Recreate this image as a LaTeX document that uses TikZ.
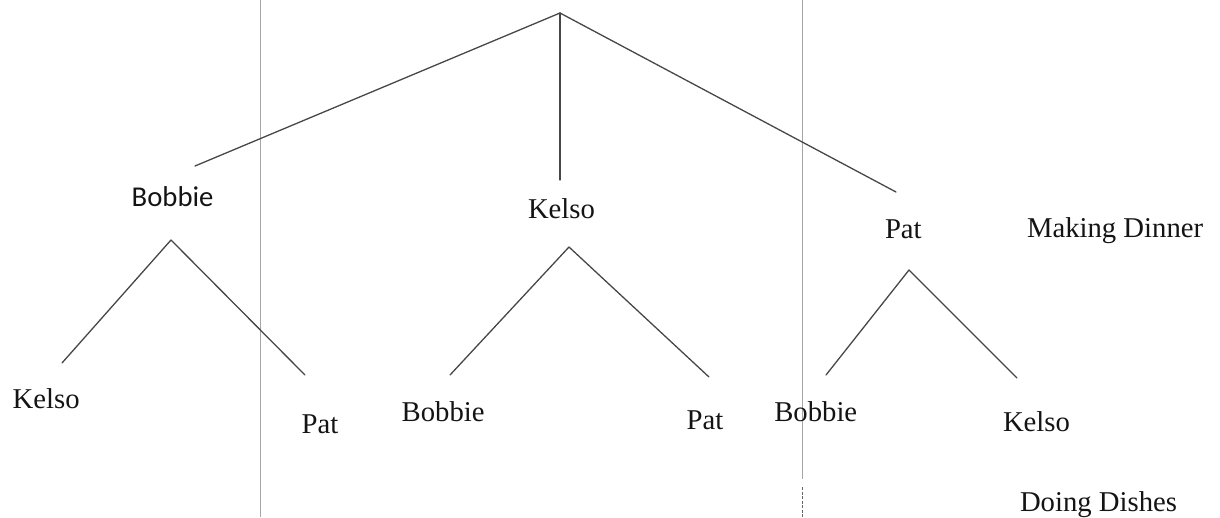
\documentclass[tikz,border=0pt]{standalone}
\usepackage{fontspec}
\setmainfont{Liberation Serif}
\newfontfamily\labelsans{Carlito}
\begin{document}
\begin{tikzpicture}[x=1pt,y=-1pt,
  lbl/.style={anchor=base west, inner sep=0pt, outer sep=0pt, text=black!92,
              font=\fontsize{28.7}{34}\selectfont},
  sanslbl/.style={lbl, font=\fontsize{28.7}{34}\selectfont\labelsans},
  branch/.style={draw=black!72, line width=1.3pt, line cap=round},
  divider/.style={draw=black!35, line width=1pt},
  dividerend/.style={draw=black!60, line width=0.9pt, dash pattern=on 3pt off 1.5pt}]
\useasboundingbox (0,0) rectangle (1220,517);

% vertical dividers
\coordinate (d1top) at (260,0);
\coordinate (d1bot) at (260,517);
\coordinate (d2top) at (802,0);
\coordinate (d2mid) at (802,479);
\coordinate (d2dash) at (802,487);
\coordinate (d2bot) at (802,517);
\draw[divider] (d1top) -- (d1bot);
\draw[divider] (d2top) -- (d2mid);
\draw[dividerend] (d2dash) -- (d2bot);

% first level: who makes dinner
\coordinate (root) at (560,13);
\coordinate (toBobbie) at (195,166);
\coordinate (toKelso) at (560,180);
\coordinate (toPat) at (896,192);
\draw[branch] (root) -- (toBobbie);
\draw[branch] (root) -- (toKelso);
\draw[branch] (root) -- (toPat);

\node[sanslbl] (dinnerBobbie) at (131.7,206.7) {Bobbie};
\node[lbl] (dinnerKelso) at (528,218) {Kelso};
\node[lbl] (dinnerPat) at (885,238) {Pat};
\node[lbl] (makingDinner) at (1027,237) {Making Dinner};

% second level: who does the dishes
\coordinate (bobApex) at (171,240);
\coordinate (bobLeft) at (62,363);
\coordinate (bobRight) at (305,375);
\draw[branch] (bobApex) -- (bobLeft);
\draw[branch] (bobApex) -- (bobRight);

\coordinate (kelApex) at (569,247);
\coordinate (kelLeft) at (450,375);
\coordinate (kelRight) at (709,377);
\draw[branch] (kelApex) -- (kelLeft);
\draw[branch] (kelApex) -- (kelRight);

\coordinate (patApex) at (909,270);
\coordinate (patLeft) at (826,375);
\coordinate (patRight) at (1017,378);
\draw[branch] (patApex) -- (patLeft);
\draw[branch] (patApex) -- (patRight);

\node[lbl] (dishesKelsoA) at (12.7,408) {Kelso};
\node[lbl] (dishesPatA) at (301.7,433) {Pat};
\node[lbl] (dishesBobbieA) at (401.7,421.7) {Bobbie};
\node[lbl] (dishesPatB) at (686.7,429) {Pat};
\node[lbl] (dishesBobbieB) at (774.3,421) {Bobbie};
\node[lbl] (dishesKelsoB) at (1003,431) {Kelso};
\node[lbl] (doingDishes) at (1020,511) {Doing Dishes};
\end{tikzpicture}
\end{document}
